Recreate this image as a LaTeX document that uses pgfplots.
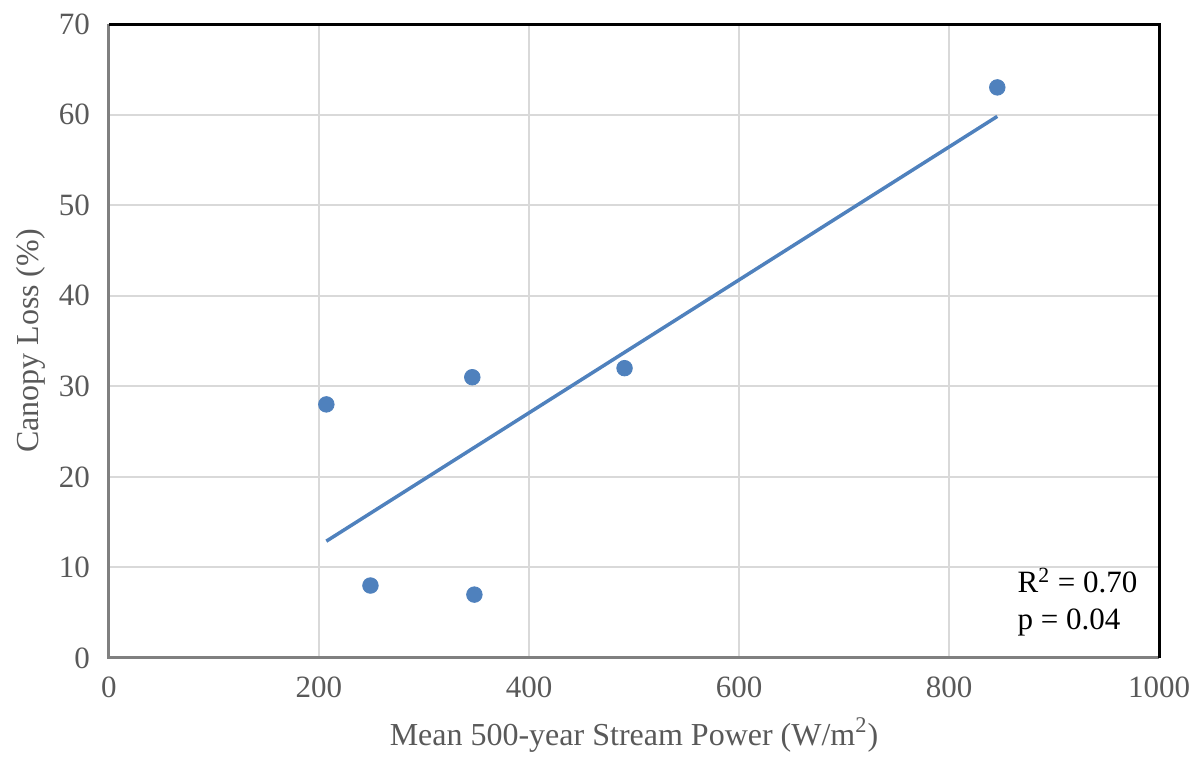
\documentclass[border=0pt]{standalone}
\usepackage{pgfplots}
\pgfplotsset{compat=1.18}
\usepackage{fontspec}
\setmainfont{Liberation Serif}
\definecolor{ptblue}{HTML}{4F81BD}
\definecolor{gridgray}{HTML}{D9D9D9}
\definecolor{txtgray}{HTML}{595959}
\definecolor{axgray}{HTML}{808080}
\begin{document}
\begin{tikzpicture}
\useasboundingbox (-54.5pt,-51pt) rectangle (546pt,329pt);
\begin{axis}[
  at={(0,0)}, anchor=south west,
  scale only axis, width=525pt, height=317pt,
  xmin=0, xmax=1000, ymin=0, ymax=70,
  xtick={0,200,...,1000}, ytick={0,10,...,70},
  grid=major, major grid style={gridgray, line width=1pt},
  axis line style={draw=none},
  tick style={draw=none},
  font=\fontsize{15.5pt}{18pt}\selectfont,
  ticklabel style={text=txtgray},
  /pgf/number format/assume math mode=true,
  /pgf/number format/1000 sep={},
  xticklabel style={yshift=-6pt},
  yticklabel style={xshift=-6pt},
  xlabel={Mean 500-year Stream Power (W/m\textsuperscript{2})},
  ylabel={Canopy Loss (\%)},
  label style={text=txtgray, font=\fontsize{16pt}{18pt}\selectfont},
  xlabel style={yshift=-3pt},
  ylabel style={yshift=0pt},
  clip=false,
]
\addplot[only marks, mark=*, mark size=3.9pt, mark options={draw=ptblue, fill=ptblue}] coordinates {
  (207,28) (249,8) (346,31) (348,7) (491,32) (846,63)
};
\addplot[no marks, ptblue, line width=1.75pt] coordinates {
  (207,12.9) (846,59.8)
};
\draw[axgray, line width=1.5pt] (rel axis cs:0,1) -- (rel axis cs:0,0) -- (rel axis cs:1,0);
\draw[black, line width=1.5pt] (rel axis cs:0,1) -- (rel axis cs:1,1) -- (rel axis cs:1,0);
\node[anchor=west, align=left, font=\fontsize{15.5pt}{18.5pt}\selectfont, inner sep=0pt] at (axis cs:865,6.2) {R\textsuperscript{2} = 0.70\\p = 0.04};
\end{axis}
\end{tikzpicture}
\end{document}
